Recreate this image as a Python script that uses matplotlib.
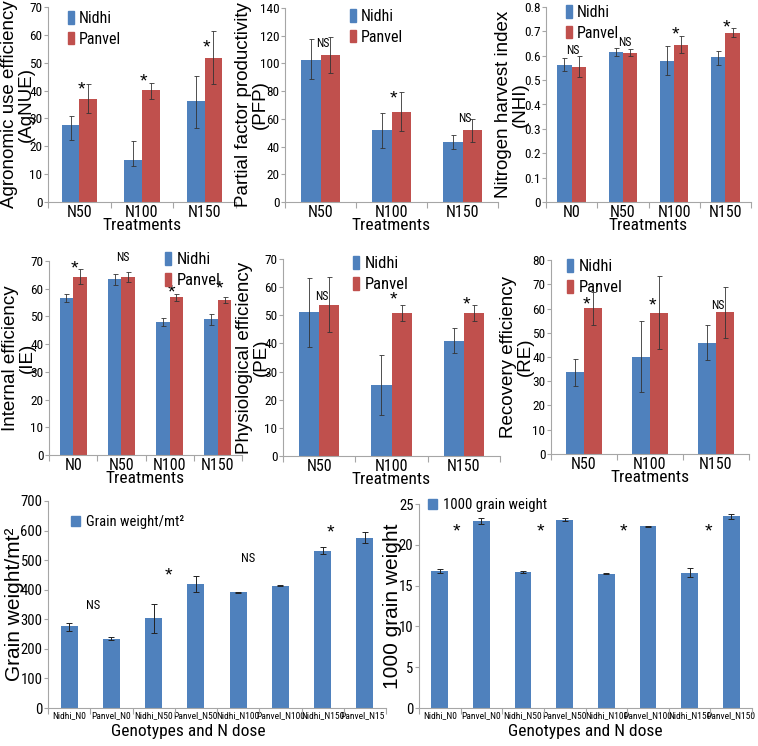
import matplotlib
matplotlib.use('Agg')
import matplotlib.pyplot as plt
from matplotlib.patches import Patch
from matplotlib.ticker import FuncFormatter, FixedLocator
from matplotlib.transforms import Bbox, TransformedBbox

W, H = 758, 746
BLUE = '#4F81BD'
RED = '#C0504D'
AXC = '#A6A6A6'
NARROW = ['Roboto Condensed', 'DejaVu Sans']
REG = ['Liberation Sans', 'DejaVu Sans']

# ---- data ----
treat3 = ['N50', 'N100', 'N150']
treat4 = ['N0', 'N50', 'N100', 'N150']
genotypes = ['Nidhi_N0', 'Panvel_N0', 'Nidhi_N50', 'Panvel_N50',
             'Nidhi_N100', 'Panvel_N100', 'Nidhi_N150', 'Panvel_N150']

# agronomic use efficiency
agnue_nidhi = [27.6, 15.2, 36.1]
agnue_nidhi_lo = [22.4, 12.8, 26.5]
agnue_nidhi_hi = [30.8, 21.8, 45.3]
agnue_panvel = [37.0, 40.1, 51.6]
agnue_panvel_lo = [31.8, 37.1, 42.3]
agnue_panvel_hi = [42.5, 42.6, 61.5]
agnue_sig = ['*', '*', '*']
agnue_sig_y = [40.2, 43.1, 55.3]

# partial factor productivity
pfp_nidhi = [102.8, 51.6, 43.5]
pfp_nidhi_lo = [88.6, 39.1, 38.4]
pfp_nidhi_hi = [117.7, 64.4, 48.5]
pfp_panvel = [106.1, 65.1, 51.6]
pfp_panvel_lo = [93.2, 51.2, 43.5]
pfp_panvel_hi = [119.4, 79.7, 60.0]
pfp_sig = ['NS', '*', 'NS']
pfp_sig_y = [114.7, 74.3, 59.9]

# nitrogen harvest index
nhi_nidhi = [0.560, 0.615, 0.578, 0.595]
nhi_nidhi_lo = [0.536, 0.600, 0.520, 0.562]
nhi_nidhi_hi = [0.590, 0.630, 0.638, 0.621]
nhi_panvel = [0.554, 0.613, 0.645, 0.695]
nhi_panvel_lo = [0.512, 0.601, 0.613, 0.676]
nhi_panvel_hi = [0.597, 0.627, 0.679, 0.712]
nhi_sig = ['NS', 'NS', '*', '*']
nhi_sig_y = [0.623, 0.656, 0.685, 0.714]

# internal efficiency
ie_nidhi = [56.8, 63.4, 48.0, 49.0]
ie_nidhi_lo = [55.2, 61.2, 46.6, 46.8]
ie_nidhi_hi = [58.2, 65.2, 49.5, 51.0]
ie_panvel = [64.4, 64.4, 57.0, 55.8]
ie_panvel_lo = [61.6, 62.6, 55.7, 54.7]
ie_panvel_hi = [67.0, 66.2, 58.2, 57.0]
ie_sig = ['*', 'NS', '*', '*']
ie_sig_y = [67.1, 71.4, 58.5, 59.9]

# physiological efficiency
pe_nidhi = [51.1, 25.1, 40.8]
pe_nidhi_lo = [38.8, 14.4, 36.5]
pe_nidhi_hi = [63.3, 35.8, 45.6]
pe_panvel = [53.7, 50.8, 50.7]
pe_panvel_lo = [44.0, 48.1, 48.1]
pe_panvel_hi = [63.5, 53.7, 53.5]
pe_sig = ['NS', '*', '*']
pe_sig_y = [56.5, 55.4, 53.7]

# recovery efficiency
re_nidhi = [33.7, 39.9, 45.9]
re_nidhi_lo = [27.9, 25.4, 38.9]
re_nidhi_hi = [39.3, 54.7, 53.2]
re_panvel = [60.1, 58.2, 58.5]
re_panvel_lo = [53.0, 43.2, 47.7]
re_panvel_hi = [67.0, 73.3, 68.8]
re_sig = ['*', '*', 'NS']
re_sig_y = [61.4, 61.0, 61.4]

# grain weight per m2
gw = [275.7, 234.0, 303.8, 419.8, 391.6, 414.0, 531.0, 574.0]
gw_lo = [261, 229.6, 255, 392.8, 390.5, 412, 520, 557]
gw_hi = [289, 240, 351, 448, 392.7, 416, 543.5, 594]
gw_sig = ['NS', '*', 'NS', '*']
gw_sig_x = [0.56, 2.36, 4.23, 6.19]
gw_sig_y = [348, 446, 507, 592]

# 1000 grain weight
tgw = [16.80, 22.95, 16.64, 23.10, 16.48, 22.25, 16.60, 23.50]
tgw_lo = [16.56, 22.60, 16.50, 22.90, 16.40, 22.20, 16.00, 23.20]
tgw_hi = [17.05, 23.30, 16.80, 23.30, 16.56, 22.30, 17.20, 23.80]
tgw_sig = ['*', '*', '*', '*']
tgw_sig_x = [0.40, 2.43, 4.42, 6.45]
tgw_sig_y = [21.6, 21.6, 21.6, 21.6]

fig = plt.figure(figsize=(W / 100, H / 100), dpi=100)


def add_ax(left, top, right, bottom):
    return fig.add_axes([left / W, 1 - bottom / H, (right - left) / W, (bottom - top) / H])


def style(ax, n, ymax, ystep, ytick_size=9.5):
    for s in ['top', 'right']:
        ax.spines[s].set_visible(False)
    for s in ['left', 'bottom']:
        ax.spines[s].set_color(AXC)
        ax.spines[s].set_linewidth(0.8)
    ax.set_xlim(-0.5, n - 0.5)
    ax.set_ylim(0, ymax)
    yt = [i * ystep for i in range(int(round(ymax / ystep)) + 1)]
    ax.set_yticks(yt)
    ax.yaxis.set_major_formatter(FuncFormatter(lambda v, p: '%g' % round(v, 3)))
    ax.tick_params(axis='y', length=3, width=0.8, color=AXC, pad=1, labelsize=ytick_size)
    ax.xaxis.set_minor_locator(FixedLocator([i - 0.5 for i in range(n + 1)]))
    ax.tick_params(axis='x', which='major', length=0, pad=2)
    ax.tick_params(axis='x', which='minor', length=4, width=0.8, color=AXC)
    for t in ax.get_yticklabels():
        t.set_family(NARROW)


def ylabel(ax, text, center_px, rect, size=13.5):
    # center_px: figure pixel of the label block's centre line
    ax.set_ylabel(text, fontsize=size, family=REG, linespacing=0.95, va='center')
    ax.yaxis.set_label_coords((center_px - rect[0]) / (rect[2] - rect[0]), 0.5)


def pair_panel(rect, cats, nid, nid_lo, nid_hi, pan, pan_lo, pan_hi, ymax, ystep,
               label, label_px, leg_xy, sig, sig_y, leg_size=11.5):
    ax = add_ax(*rect)
    n = len(cats)
    x = list(range(n))
    w = 0.28
    nerr = [[v - lo for v, lo in zip(nid, nid_lo)], [hi - v for v, hi in zip(nid, nid_hi)]]
    perr = [[v - lo for v, lo in zip(pan, pan_lo)], [hi - v for v, hi in zip(pan, pan_hi)]]
    ax.bar([i - w / 2 for i in x], nid, w, color=BLUE, zorder=2)
    ax.bar([i + w / 2 for i in x], pan, w, color=RED, zorder=2)
    ek = dict(fmt='none', ecolor='#333333', elinewidth=0.6, capsize=1.8, capthick=0.6, zorder=3)
    ax.errorbar([i - w / 2 for i in x], nid, yerr=nerr, **ek)
    ax.errorbar([i + w / 2 for i in x], pan, yerr=perr, **ek)
    style(ax, n, ymax, ystep)
    ax.set_xticks(x)
    ax.set_xticklabels(cats, fontsize=11.5, family=NARROW)
    ax.set_xlabel('Treatments', fontsize=12.5, family=NARROW, labelpad=-1)
    ylabel(ax, label, label_px, rect)
    for i, (s, yv) in enumerate(zip(sig, sig_y)):
        if s == '*':
            ax.text(i + 0.03, yv, s, ha='center', va='center', fontsize=14,
                    family=REG, clip_on=False)
        else:
            ax.text(i + 0.03, yv, s, ha='center', va='center', fontsize=8.5,
                    family=NARROW, clip_on=False)
    handles = [Patch(color=BLUE, label='Nidhi'), Patch(color=RED, label='Panvel')]
    ax.legend(handles=handles, loc='upper left',
              bbox_to_anchor=(leg_xy[0] / W, 1 - leg_xy[1] / H),
              bbox_transform=fig.transFigure, frameon=False,
              handlelength=0.35, handleheight=0.8, handletextpad=0.35,
              labelspacing=0.35, borderpad=0, borderaxespad=0,
              prop={'family': NARROW, 'size': leg_size})
    return ax


# top row
pair_panel((48, 7, 236, 202), treat3, agnue_nidhi, agnue_nidhi_lo, agnue_nidhi_hi,
           agnue_panvel, agnue_panvel_lo, agnue_panvel_hi, 70, 10,
           'Agronomic use efficiency\n(AgNUE)', 18, (68, 11), agnue_sig, agnue_sig_y)
pair_panel((285, 8, 498, 202), treat3, pfp_nidhi, pfp_nidhi_lo, pfp_nidhi_hi,
           pfp_panvel, pfp_panvel_lo, pfp_panvel_hi, 140, 20,
           'Partial factor productivity\n(PFP)', 252, (350, 9), pfp_sig, pfp_sig_y)
pair_panel((546, 7, 751, 202), treat4, nhi_nidhi, nhi_nidhi_lo, nhi_nidhi_hi,
           nhi_panvel, nhi_panvel_lo, nhi_panvel_hi, 0.8, 0.1,
           'Nitrogen harvest index\n(NHI)', 512, (566, 5), nhi_sig, nhi_sig_y)

# middle row
pair_panel((49, 261, 242, 455), treat4, ie_nidhi, ie_nidhi_lo, ie_nidhi_hi,
           ie_panvel, ie_panvel_lo, ie_panvel_hi, 70, 10,
           'Internal efficiency\n(IE)', 19, (165, 252), ie_sig, ie_sig_y, leg_size=12)
pair_panel((283, 259, 500, 456), treat3, pe_nidhi, pe_nidhi_lo, pe_nidhi_hi,
           pe_panvel, pe_panvel_lo, pe_panvel_hi, 70, 10,
           'Physiological efficiency\n(PE)', 253, (353, 256), pe_sig, pe_sig_y, leg_size=12)
pair_panel((551, 260, 749, 454), treat3, re_nidhi, re_nidhi_lo, re_nidhi_hi,
           re_panvel, re_panvel_lo, re_panvel_hi, 80, 10,
           'Recovery efficiency\n(RE)', 517, (567, 259), re_sig, re_sig_y, leg_size=12)


def single_panel(rect, vals, lo, hi, ymax, ystep, label, label_px, leg_label, leg_xy,
                 sig, sig_x, sig_y, clip_right=None):
    ax = add_ax(*rect)
    n = len(genotypes)
    x = list(range(n))
    err = [[v - l for v, l in zip(vals, lo)], [h - v for v, h in zip(vals, hi)]]
    ax.bar(x, vals, 0.4, color=BLUE, zorder=2)
    ax.errorbar(x, vals, yerr=err, fmt='none', ecolor='#222222', elinewidth=0.7,
                capsize=2.5, capthick=0.7, zorder=3)
    style(ax, n, ymax, ystep, ytick_size=10.5)
    ax.set_xticks(x)
    ax.set_xticklabels(genotypes, fontsize=6.8, family=NARROW)
    ax.set_xlabel('Genotypes and N dose', fontsize=12.5, family=NARROW, labelpad=3)
    ax.set_ylabel(label, fontsize=15, family=REG, va='center')
    ax.yaxis.set_label_coords((label_px - rect[0]) / (rect[2] - rect[0]), 0.5)
    for s, xv, yv in zip(sig, sig_x, sig_y):
        if s == '*':
            ax.text(xv, yv, s, ha='center', va='center', fontsize=14, family=REG)
        else:
            ax.text(xv, yv, s, ha='center', va='center', fontsize=9, family=NARROW)
    ax.legend(handles=[Patch(color=BLUE, label=leg_label)], loc='upper left',
              bbox_to_anchor=(leg_xy[0] / W, 1 - leg_xy[1] / H),
              bbox_transform=fig.transFigure, frameon=False,
              handlelength=0.6, handleheight=0.7, handletextpad=0.4,
              borderpad=0, borderaxespad=0, prop={'family': NARROW, 'size': 10.5})
    if clip_right is not None:
        clip = TransformedBbox(Bbox([[0, 0], [clip_right / W, 1]]), fig.transFigure)
        for t in ax.get_xticklabels():
            t.set_clip_box(clip)
            t.set_clip_on(True)
    return ax


ax7 = single_panel((48, 501, 386, 708), gw, gw_lo, gw_hi, 700, 100,
                   'Grain weight/mt\u00b2', 15, 'Grain weight/mt\u00b2', (71, 515),
                   gw_sig, gw_sig_x, gw_sig_y, clip_right=384)
ax7.xaxis.label.set_x(0.414)
ax8 = single_panel((419, 504, 752, 708), tgw, tgw_lo, tgw_hi, 25, 5,
                   '1000 grain weight', 393, '1000 grain weight', (428, 498),
                   tgw_sig, tgw_sig_x, tgw_sig_y)

fig.savefig('out.png', dpi=100)
